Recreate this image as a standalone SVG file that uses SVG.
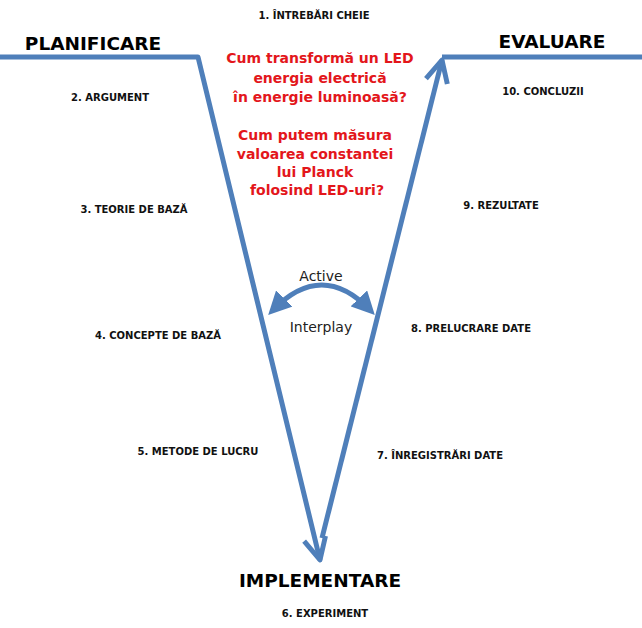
<svg xmlns="http://www.w3.org/2000/svg" width="642" height="628" viewBox="0 0 642 628">
<style>
.lbl{font-family:"DejaVu Sans",Verdana,sans-serif;font-weight:bold;font-size:10px;fill:#111;text-anchor:middle}
.hd{font-family:"DejaVu Sans",Verdana,sans-serif;font-weight:bold;font-size:18.5px;fill:#000;text-anchor:middle}
.q{font-family:"DejaVu Sans",Verdana,sans-serif;font-weight:bold;font-size:14px;fill:#e3161b;text-anchor:middle}
.ai{font-family:"DejaVu Sans",Verdana,sans-serif;font-size:14px;fill:#222;text-anchor:middle}
.ln{fill:none;stroke:#4f7fba;stroke-width:5;stroke-linejoin:round}
</style>
<defs>
<marker id="v" viewBox="0 0 10 10" refX="9" refY="5" markerWidth="5.5" markerHeight="5.5" markerUnits="strokeWidth" orient="auto">
<path d="M1,1 L9,5 L1,9" fill="none" stroke="#4f7fba" stroke-width="1.8" stroke-linejoin="round"/>
</marker>
<marker id="t" viewBox="0 0 10 10" refX="7" refY="5" markerWidth="4.6" markerHeight="4.6" markerUnits="strokeWidth" orient="auto-start-reverse">
<path d="M0,0 L10,5 L0,10 z" fill="#4f7fba"/>
</marker>
</defs>
<g id="connectors">
<path class="ln" d="M0,57 L198,57 L320,560" marker-end="url(#v)"/>
<path class="ln" d="M322,538 L442,60"  marker-end="url(#v)"/>
<path class="ln" d="M442,57 L642,57"/>
<path class="ln" d="M273,310 Q322,260 370,310" marker-start="url(#t)" marker-end="url(#t)"/>
</g>
<g id="n-planificare"><text class="hd" x="93" y="50">PLANIFICARE</text></g>
<g id="n-evaluare"><text class="hd" x="552" y="48">EVALUARE</text></g>
<g id="n-implementare"><text class="hd" x="320" y="587">IMPLEMENTARE</text></g>
<g id="n1"><text class="lbl" x="314" y="19">1. ÎNTREBĂRI CHEIE</text></g>
<g id="n2"><text class="lbl" x="110" y="101">2. ARGUMENT</text></g>
<g id="n3"><text class="lbl" x="134" y="213">3. TEORIE DE BAZĂ</text></g>
<g id="n4"><text class="lbl" x="158" y="339">4. CONCEPTE DE BAZĂ</text></g>
<g id="n5"><text class="lbl" x="198" y="455">5. METODE DE LUCRU</text></g>
<g id="n6"><text class="lbl" x="325" y="617">6. EXPERIMENT</text></g>
<g id="n7"><text class="lbl" x="440" y="459">7. ÎNREGISTRĂRI DATE</text></g>
<g id="n8"><text class="lbl" x="471" y="332">8. PRELUCRARE DATE</text></g>
<g id="n9"><text class="lbl" x="501" y="209">9. REZULTATE</text></g>
<g id="n10"><text class="lbl" x="543" y="95">10. CONCLUZII</text></g>
<g id="q1">
<text class="q" x="320" y="63">Cum transformă un LED</text>
<text class="q" x="320" y="83">energia electrică</text>
<text class="q" x="320" y="102">în energie luminoasă?</text>
</g>
<g id="q2">
<text class="q" x="315" y="140">Cum putem măsura</text>
<text class="q" x="315" y="159">valoarea constantei</text>
<text class="q" x="315" y="177">lui Planck</text>
<text class="q" x="317" y="195">folosind LED-uri?</text>
</g>
<g id="interplay">
<text class="ai" x="321" y="281">Active</text>
<text class="ai" x="321" y="332">Interplay</text>
</g>
</svg>
